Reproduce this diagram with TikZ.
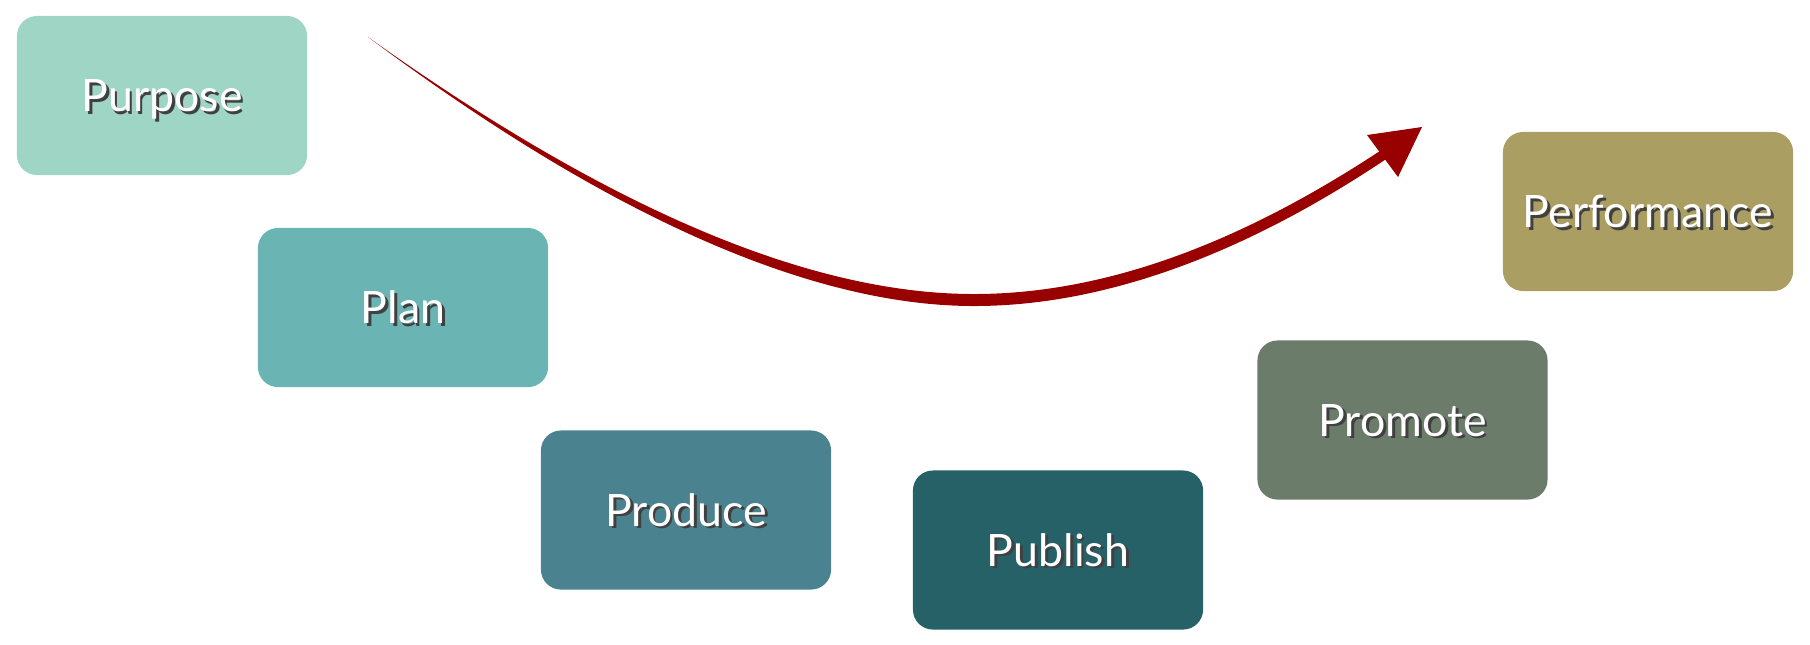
\documentclass[tikz,border=0pt]{standalone}
\usepackage{fontspec}
\setmainfont{Lato}
\definecolor{cPurpose}{HTML}{9FD5C4}
\definecolor{cPlan}{HTML}{6AB5B4}
\definecolor{cProduce}{HTML}{4A828F}
\definecolor{cPublish}{HTML}{266168}
\definecolor{cPromote}{HTML}{6B7D6A}
\definecolor{cPerformance}{HTML}{AB9E62}
\definecolor{arrowred}{HTML}{990000}
\newcommand{\shadowtext}[1]{\makebox[0pt][l]{\hspace{0.8pt}\raisebox{-0.8pt}{\textcolor{black!75}{#1}}}\textcolor{white}{#1}}
\tikzset{
  stagebox/.style={fill=#1, draw=none, rounded corners=0.2cm, minimum width=2.9cm, minimum height=1.59cm,
    inner sep=0pt, font=\fontsize{12.7}{15}\selectfont, text height=9.1pt, text depth=0pt},
  arrowpaint/.style={fill=arrowred, draw=none},
}
\begin{document}
\begin{tikzpicture}[x=0.01cm, y=-0.01cm]
\useasboundingbox (0,0) rectangle (1810,644);
\node[stagebox=cPurpose] (purpose) at (162,95.5) {\shadowtext{Purpose}};
\node[stagebox=cPlan] (plan) at (403,307.5) {\shadowtext{Plan}};
\node[stagebox=cProduce] (produce) at (686,510) {\shadowtext{Produce}};
\node[stagebox=cPublish] (publish) at (1058,550) {\shadowtext{Publish}};
\node[stagebox=cPromote] (promote) at (1402.5,420) {\shadowtext{Promote}};
\node[stagebox=cPerformance] (performance) at (1648,211.5) {\shadowtext{Performance}};
% tapered arrow
\coordinate (arrowstart) at (368,37);
\coordinate (arrowtip) at (1422,127);
\path[arrowpaint] (arrowstart)
  .. controls (610,209.5) and (810,294) .. (974,294)
  .. controls (1100,294) and (1235,247) .. (1383.2,148.8)
  -- (1388.8,157.2)
  .. controls (1240,257.5) and (1100,306) .. (974,306)
  .. controls (810,306) and (606,215) .. (arrowstart)
  -- cycle;
\path[arrowpaint] (arrowtip) -- (1367,135) -- (1398,177) -- cycle;
\end{tikzpicture}
\end{document}
